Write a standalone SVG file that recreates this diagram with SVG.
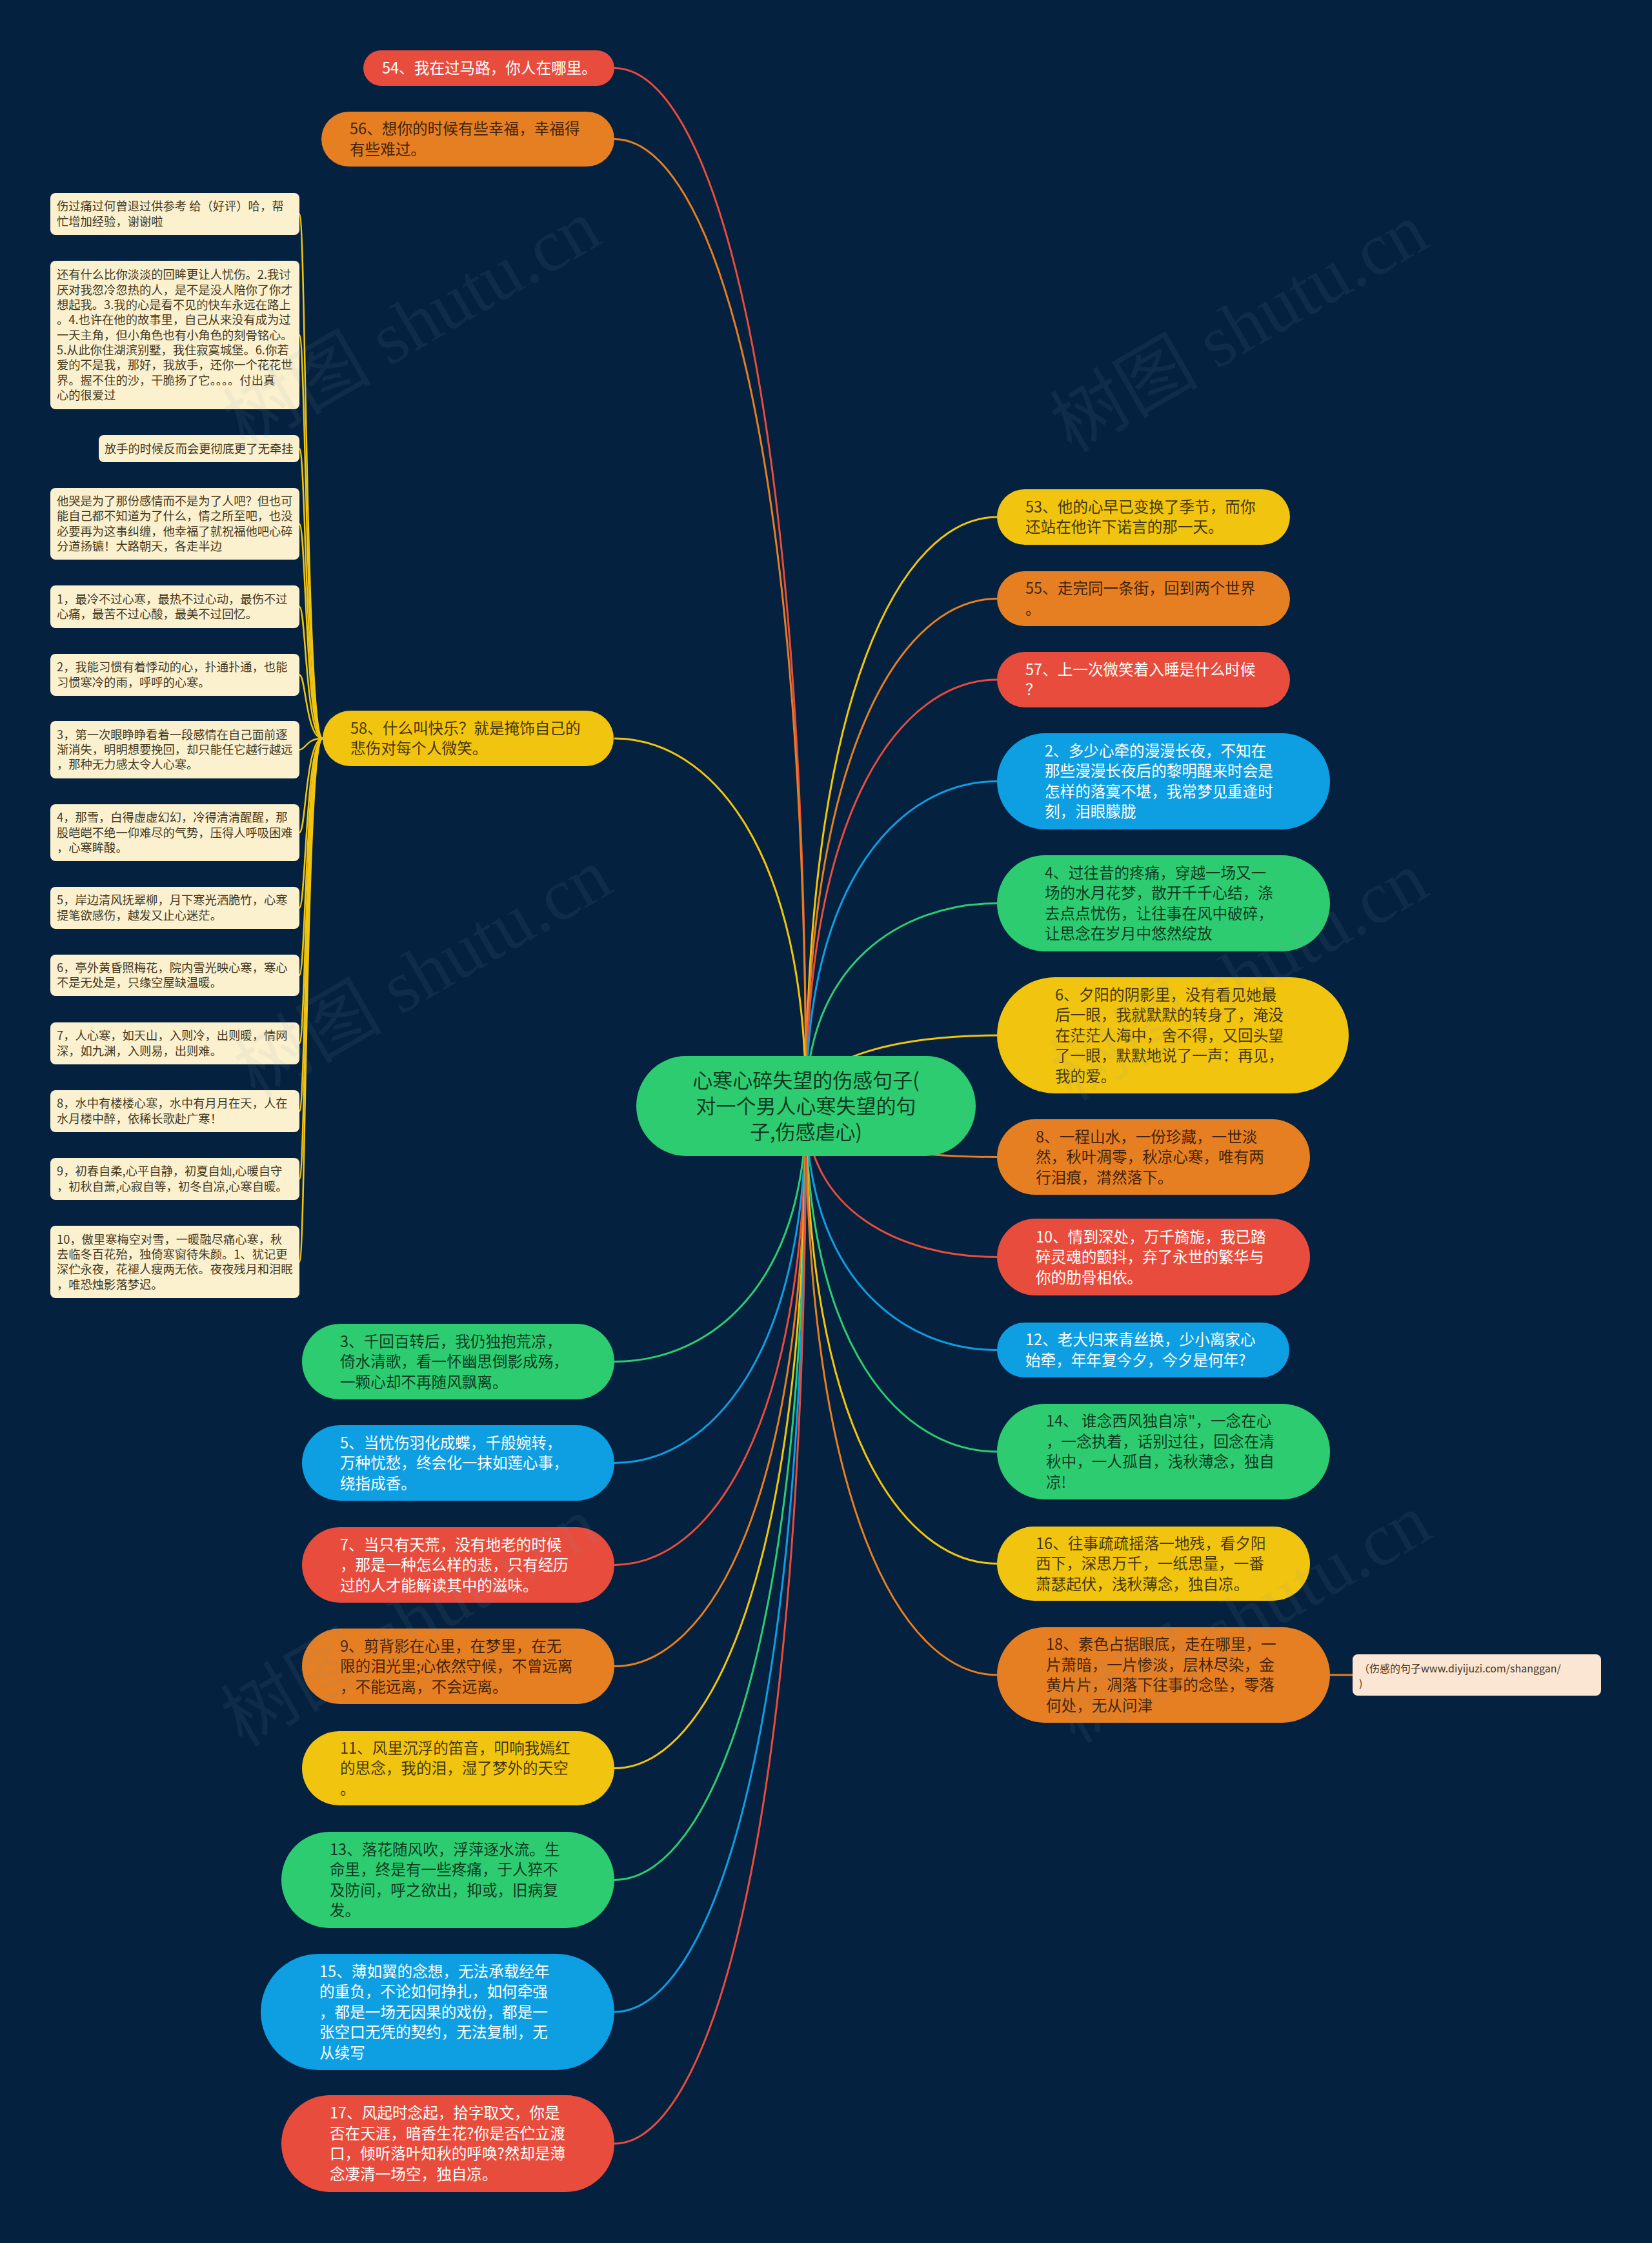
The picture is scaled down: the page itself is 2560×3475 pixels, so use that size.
<svg xmlns="http://www.w3.org/2000/svg" width="2560" height="3475" viewBox="0 0 2560 3475">
<style>
.bg{fill:#04213f}
.red{fill:#e74c3c}.orange{fill:#e67e22}.yellow{fill:#f1c40f}.green{fill:#2ecc71}.blue{fill:#0e9ee2}
.t{font-family:'Noto Sans CJK SC','Noto Sans',sans-serif;font-size:23.6px}
.dk{fill:#000;fill-opacity:.74}.lt{fill:#fff}
.note{fill:#fbf1cf}
.nt{font-family:'Noto Sans CJK SC','Noto Sans',sans-serif;font-size:18.3px;fill:#44391f}
.ct{font-family:'Noto Sans CJK SC','Noto Sans',sans-serif;font-size:31px;fill:#000;fill-opacity:.74}
.c{fill:none;stroke-width:3}
.cn{fill:none;stroke-width:2.5;stroke:#f1c40f}
.sr{stroke:#e74c3c}.so{stroke:#e67e22}.sy{stroke:#f1c40f}.sg{stroke:#2ecc71}.sb{stroke:#0e9ee2}
.ann{fill:#fbe6d3}
.at{font-family:'Noto Sans CJK SC','Noto Sans',sans-serif;font-size:16px;fill:#4a3520}
.wm{font-family:'Liberation Serif','Noto Sans CJK SC',serif;font-size:115px;fill:#8a9bb0;fill-opacity:.09}
</style>
<rect class="bg" x="0" y="0" width="2560" height="3475"/>
<g id="connectors">
<path class="c sy" d="M1249 1713 C1249 1074.6 1397 801 1545 801"/>
<path class="c so" d="M1249 1713 C1249 1163.15 1397 927.5 1545 927.5"/>
<path class="c sr" d="M1249 1713 C1249 1251 1397 1053 1545 1053"/>
<path class="c sb" d="M1249 1713 C1249 1361.25 1397 1210.5 1545 1210.5"/>
<path class="c sg" d="M1249 1713 C1249 1493.55 1397 1399.5 1545 1399.5"/>
<path class="c sy" d="M1249 1713 C1249 1636.7 1397 1604 1545 1604"/>
<path class="c so" d="M1249 1713 C1249 1768.65 1397 1792.5 1545 1792.5"/>
<path class="c sr" d="M1249 1713 C1249 1877.15 1397 1947.5 1545 1947.5"/>
<path class="c sb" d="M1249 1713 C1249 1977.95 1397 2091.5 1545 2091.5"/>
<path class="c sg" d="M1249 1713 C1249 2088.2 1397 2249 1545 2249"/>
<path class="c sy" d="M1249 1713 C1249 2209.65 1397 2422.5 1545 2422.5"/>
<path class="c so" d="M1249 1713 C1249 2330.4 1397 2595 1545 2595"/>
<path class="c sr" d="M1249 1713 C1249 587.75 1100.5 105.5 952 105.5"/>
<path class="c so" d="M1249 1713 C1249 664.75 1100.5 215.5 952 215.5"/>
<path class="c sy" d="M1249 1713 C1249 1314.7 1100.5 1144 952 1144"/>
<path class="c sg" d="M1249 1713 C1249 1990.55 1100.5 2109.5 952 2109.5"/>
<path class="c sb" d="M1249 1713 C1249 2100.45 1100.5 2266.5 952 2266.5"/>
<path class="c sr" d="M1249 1713 C1249 2211.05 1100.5 2424.5 952 2424.5"/>
<path class="c so" d="M1249 1713 C1249 2320.95 1100.5 2581.5 952 2581.5"/>
<path class="c sy" d="M1249 1713 C1249 2431.55 1100.5 2739.5 952 2739.5"/>
<path class="c sg" d="M1249 1713 C1249 2552.65 1100.5 2912.5 952 2912.5"/>
<path class="c sb" d="M1249 1713 C1249 2695.8 1100.5 3117 952 3117"/>
<path class="c sr" d="M1249 1713 C1249 2838.6 1100.5 3321 952 3321"/>
<path class="cn" d="M500 1144 C474 1144 474 331.5 464 331.5"/>
<path class="cn" d="M500 1144 C474 1144 474 519 464 519"/>
<path class="cn" d="M500 1144 C474 1144 474 695 464 695"/>
<path class="cn" d="M500 1144 C474 1144 474 811.5 464 811.5"/>
<path class="cn" d="M500 1144 C474 1144 474 940 464 940"/>
<path class="cn" d="M500 1144 C474 1144 474 1045.5 464 1045.5"/>
<path class="cn" d="M500 1144 C474 1144 474 1161.5 464 1161.5"/>
<path class="cn" d="M500 1144 C474 1144 474 1290 464 1290"/>
<path class="cn" d="M500 1144 C474 1144 474 1406.5 464 1406.5"/>
<path class="cn" d="M500 1144 C474 1144 474 1511 464 1511"/>
<path class="cn" d="M500 1144 C474 1144 474 1616.5 464 1616.5"/>
<path class="cn" d="M500 1144 C474 1144 474 1721.5 464 1721.5"/>
<path class="cn" d="M500 1144 C474 1144 474 1826.5 464 1826.5"/>
<path class="cn" d="M500 1144 C474 1144 474 1955 464 1955"/>
<path class="c so" d="M2061 2595 L2096 2595"/>
</g>

<g id="center">
<rect class="green" x="986" y="1636" width="526" height="155" rx="77.5"/>
<text class="ct" text-anchor="middle" x="1249" y="1685.3"><tspan x="1249">心寒心碎失望的伤感句子(</tspan><tspan x="1249" dy="40">对一个男人心寒失望的句</tspan><tspan x="1249" dy="40">子,伤感虐心)</tspan></text>
</g>

<g id="n53"><rect class="yellow" x="1545" y="758" width="454" height="86" rx="43"/>
<text class="t dk" x="1589" y="793.75"><tspan x="1589">53、他的心早已变换了季节，而你</tspan><tspan x="1589" dy="31.5">还站在他许下诺言的那一天。</tspan></text></g>
<g id="n55"><rect class="orange" x="1545" y="885" width="454" height="85" rx="42.5"/>
<text class="t dk" x="1589" y="920.25"><tspan x="1589">55、走完同一条街，回到两个世界</tspan><tspan x="1589" dy="31.5">。</tspan></text></g>
<g id="n57"><rect class="red" x="1545" y="1010" width="454" height="86" rx="43"/>
<text class="t lt" x="1589" y="1045.75"><tspan x="1589">57、上一次微笑着入睡是什么时候</tspan><tspan x="1589" dy="31.5">？</tspan></text></g>
<g id="n2"><rect class="blue" x="1545" y="1136" width="516" height="149" rx="74.5"/>
<text class="t lt" x="1619" y="1171.75"><tspan x="1619">2、多少心牵的漫漫长夜，不知在</tspan><tspan x="1619" dy="31.5">那些漫漫长夜后的黎明醒来时会是</tspan><tspan x="1619" dy="31.5">怎样的落寞不堪，我常梦见重逢时</tspan><tspan x="1619" dy="31.5">刻，泪眼朦胧</tspan></text></g>
<g id="n4"><rect class="green" x="1545" y="1325" width="516" height="149" rx="74.5"/>
<text class="t dk" x="1619" y="1360.75"><tspan x="1619">4、过往昔的疼痛，穿越一场又一</tspan><tspan x="1619" dy="31.5">场的水月花梦，散开千千心结，涤</tspan><tspan x="1619" dy="31.5">去点点忧伤，让往事在风中破碎，</tspan><tspan x="1619" dy="31.5">让思念在岁月中悠然绽放</tspan></text></g>
<g id="n6"><rect class="yellow" x="1545" y="1514" width="545" height="180" rx="90"/>
<text class="t dk" x="1635" y="1549.5"><tspan x="1635">6、夕阳的阴影里，没有看见她最</tspan><tspan x="1635" dy="31.5">后一眼，我就默默的转身了，淹没</tspan><tspan x="1635" dy="31.5">在茫茫人海中，舍不得，又回头望</tspan><tspan x="1635" dy="31.5">了一眼，默默地说了一声：再见，</tspan><tspan x="1635" dy="31.5">我的爱。</tspan></text></g>
<g id="n8"><rect class="orange" x="1545" y="1734" width="485" height="117" rx="58.5"/>
<text class="t dk" x="1605" y="1769.5"><tspan x="1605">8、一程山水，一份珍藏，一世淡</tspan><tspan x="1605" dy="31.5">然，秋叶凋零，秋凉心寒，唯有两</tspan><tspan x="1605" dy="31.5">行泪痕，潸然落下。</tspan></text></g>
<g id="n10"><rect class="red" x="1545" y="1888" width="485" height="119" rx="59.5"/>
<text class="t lt" x="1605" y="1924.5"><tspan x="1605">10、情到深处，万千旖旎，我已踏</tspan><tspan x="1605" dy="31.5">碎灵魂的颤抖，弃了永世的繁华与</tspan><tspan x="1605" dy="31.5">你的肋骨相依。</tspan></text></g>
<g id="n12"><rect class="blue" x="1545" y="2049" width="453" height="85" rx="42.5"/>
<text class="t lt" x="1589" y="2084.25"><tspan x="1589">12、老大归来青丝换，少小离家心</tspan><tspan x="1589" dy="31.5">始牵，年年复今夕，今夕是何年?</tspan></text></g>
<g id="n14"><rect class="green" x="1545" y="2175" width="516" height="148" rx="74"/>
<text class="t dk" x="1621" y="2210.25"><tspan x="1621">14、 谁念西风独自凉"，一念在心</tspan><tspan x="1621" dy="31.5">，一念执着，话别过往，回念在清</tspan><tspan x="1621" dy="31.5">秋中，一人孤自，浅秋薄念，独自</tspan><tspan x="1621" dy="31.5">凉!</tspan></text></g>
<g id="n16"><rect class="yellow" x="1545" y="2365" width="485" height="115" rx="57.5"/>
<text class="t dk" x="1605" y="2399.5"><tspan x="1605">16、往事疏疏摇落一地残，看夕阳</tspan><tspan x="1605" dy="31.5">西下，深思万千，一纸思量，一番</tspan><tspan x="1605" dy="31.5">萧瑟起伏，浅秋薄念，独自凉。</tspan></text></g>
<g id="n18"><rect class="orange" x="1545" y="2521" width="516" height="148" rx="74"/>
<text class="t dk" x="1621" y="2556.25"><tspan x="1621">18、素色占据眼底，走在哪里，一</tspan><tspan x="1621" dy="31.5">片萧暗，一片惨淡，层林尽染，金</tspan><tspan x="1621" dy="31.5">黄片片，凋落下往事的念坠，零落</tspan><tspan x="1621" dy="31.5">何处，无从问津</tspan></text></g>
<g id="annotation"><rect class="ann" x="2096" y="2563" width="385" height="64" rx="8"/>
<text class="at" x="2106" y="2590.8"><tspan x="2106">（伤感的句子www.diyijuzi.com/shanggan/</tspan><tspan x="2106" dy="23">)</tspan></text></g>

<g id="n54"><rect class="red" x="563" y="78" width="389" height="55" rx="27.5"/>
<text class="t lt" x="592" y="114">54、我在过马路，你人在哪里。</text></g>
<g id="n56"><rect class="orange" x="498" y="173" width="454" height="85" rx="42.5"/>
<text class="t dk" x="542" y="208.25"><tspan x="542">56、想你的时候有些幸福，幸福得</tspan><tspan x="542" dy="31.5">有些难过。</tspan></text></g>
<g id="n58"><rect class="yellow" x="500" y="1101" width="451" height="86" rx="43"/>
<text class="t dk" x="543" y="1136.75"><tspan x="543">58、什么叫快乐？就是掩饰自己的</tspan><tspan x="543" dy="31.5">悲伤对每个人微笑。</tspan></text></g>
<g id="n3"><rect class="green" x="468" y="2051" width="484" height="117" rx="58.5"/>
<text class="t dk" x="527" y="2086.5"><tspan x="527">3、千回百转后，我仍独抱荒凉，</tspan><tspan x="527" dy="31.5">倚水清歌，看一怀幽思倒影成殇，</tspan><tspan x="527" dy="31.5">一颗心却不再随风飘离。</tspan></text></g>
<g id="n5"><rect class="blue" x="468" y="2208" width="484" height="117" rx="58.5"/>
<text class="t lt" x="527" y="2243.5"><tspan x="527">5、当忧伤羽化成蝶，千般婉转，</tspan><tspan x="527" dy="31.5">万种忧愁，终会化一抹如莲心事，</tspan><tspan x="527" dy="31.5">绕指成香。</tspan></text></g>
<g id="n7"><rect class="red" x="468" y="2366" width="484" height="117" rx="58.5"/>
<text class="t lt" x="527" y="2401.5"><tspan x="527">7、当只有天荒，没有地老的时候</tspan><tspan x="527" dy="31.5">，那是一种怎么样的悲，只有经历</tspan><tspan x="527" dy="31.5">过的人才能解读其中的滋味。</tspan></text></g>
<g id="n9"><rect class="orange" x="468" y="2523" width="484" height="117" rx="58.5"/>
<text class="t dk" x="527" y="2558.5"><tspan x="527">9、剪背影在心里，在梦里，在无</tspan><tspan x="527" dy="31.5">限的泪光里;心依然守候，不曾远离</tspan><tspan x="527" dy="31.5">，不能远离，不会远离。</tspan></text></g>
<g id="n11"><rect class="yellow" x="468" y="2682" width="484" height="115" rx="57.5"/>
<text class="t dk" x="527" y="2716.5"><tspan x="527">11、风里沉浮的笛音，叩响我嫣红</tspan><tspan x="527" dy="31.5">的思念，我的泪，湿了梦外的天空</tspan><tspan x="527" dy="31.5">。</tspan></text></g>
<g id="n13"><rect class="green" x="436" y="2838" width="516" height="149" rx="74.5"/>
<text class="t dk" x="511" y="2873.75"><tspan x="511">13、落花随风吹，浮萍逐水流。生</tspan><tspan x="511" dy="31.5">命里，终是有一些疼痛，于人猝不</tspan><tspan x="511" dy="31.5">及防间，呼之欲出，抑或，旧病复</tspan><tspan x="511" dy="31.5">发。</tspan></text></g>
<g id="n15"><rect class="blue" x="404" y="3027" width="548" height="180" rx="90"/>
<text class="t lt" x="495" y="3062.5"><tspan x="495">15、薄如翼的念想，无法承载经年</tspan><tspan x="495" dy="31.5">的重负，不论如何挣扎，如何牵强</tspan><tspan x="495" dy="31.5">，都是一场无因果的戏份，都是一</tspan><tspan x="495" dy="31.5">张空口无凭的契约，无法复制，无</tspan><tspan x="495" dy="31.5">从续写</tspan></text></g>
<g id="n17"><rect class="red" x="436" y="3246" width="516" height="150" rx="75"/>
<text class="t lt" x="511" y="3282.25"><tspan x="511">17、风起时念起，拾字取文，你是</tspan><tspan x="511" dy="31.5">否在天涯，暗香生花?你是否伫立渡</tspan><tspan x="511" dy="31.5">口，倾听落叶知秋的呼唤?然却是薄</tspan><tspan x="511" dy="31.5">念凄清一场空，独自凉。</tspan></text></g>

<g id="note1"><rect class="note" x="78" y="299" width="386" height="65" rx="8"/>
<text class="nt" x="88" y="326.45"><tspan x="88">伤过痛过何曾退过供参考 给（好评）哈，帮</tspan><tspan x="88" dy="23.3">忙增加经验，谢谢啦</tspan></text></g>
<g id="note2"><rect class="note" x="78" y="404" width="386" height="230" rx="8"/>
<text class="nt" x="88" y="432.4"><tspan x="88">还有什么比你淡淡的回眸更让人忧伤。2.我讨</tspan><tspan x="88" dy="23.3">厌对我忽冷忽热的人，是不是没人陪你了你才</tspan><tspan x="88" dy="23.3">想起我。3.我的心是看不见的快车永远在路上</tspan><tspan x="88" dy="23.3">。4.也许在他的故事里，自己从来没有成为过</tspan><tspan x="88" dy="23.3">一天主角，但小角色也有小角色的刻骨铭心。</tspan><tspan x="88" dy="23.3">5.从此你住湖滨别墅，我住寂寞城堡。6.你若</tspan><tspan x="88" dy="23.3">爱的不是我，那好，我放手，还你一个花花世</tspan><tspan x="88" dy="23.3">界。握不住的沙，干脆扬了它。。。。付出真</tspan><tspan x="88" dy="23.3">心的很爱过</tspan></text></g>
<g id="note3"><rect class="note" x="153" y="674" width="311" height="42" rx="8"/>
<text class="nt" x="162" y="701.6">放手的时候反而会更彻底更了无牵挂</text></g>
<g id="note4"><rect class="note" x="78" y="756" width="386" height="111" rx="8"/>
<text class="nt" x="88" y="783.15"><tspan x="88">他哭是为了那份感情而不是为了人吧？但也可</tspan><tspan x="88" dy="23.3">能自己都不知道为了什么，情之所至吧，也没</tspan><tspan x="88" dy="23.3">必要再为这事纠缠，他幸福了就祝福他吧心碎</tspan><tspan x="88" dy="23.3">分道扬镳！大路朝天，各走半边</tspan></text></g>
<g id="note5"><rect class="note" x="78" y="907" width="386" height="66" rx="8"/>
<text class="nt" x="88" y="934.95"><tspan x="88">1，最冷不过心寒，最热不过心动，最伤不过</tspan><tspan x="88" dy="23.3">心痛，最苦不过心酸，最美不过回忆。</tspan></text></g>
<g id="note6"><rect class="note" x="78" y="1013" width="386" height="65" rx="8"/>
<text class="nt" x="88" y="1040.45"><tspan x="88">2，我能习惯有着悸动的心，扑通扑通，也能</tspan><tspan x="88" dy="23.3">习惯寒冷的雨，呼呼的心寒。</tspan></text></g>
<g id="note7"><rect class="note" x="78" y="1117" width="386" height="89" rx="8"/>
<text class="nt" x="88" y="1144.8"><tspan x="88">3，第一次眼睁睁看着一段感情在自己面前逐</tspan><tspan x="88" dy="23.3">渐消失，明明想要挽回，却只能任它越行越远</tspan><tspan x="88" dy="23.3">，那种无力感太令人心寒。</tspan></text></g>
<g id="note8"><rect class="note" x="78" y="1246" width="386" height="88" rx="8"/>
<text class="nt" x="88" y="1273.3"><tspan x="88">4，那雪，白得虚虚幻幻，冷得清清醒醒，那</tspan><tspan x="88" dy="23.3">股皑皑不绝一仰难尽的气势，压得人呼吸困难</tspan><tspan x="88" dy="23.3">，心寒眸酸。</tspan></text></g>
<g id="note9"><rect class="note" x="78" y="1374" width="386" height="65" rx="8"/>
<text class="nt" x="88" y="1401.45"><tspan x="88">5，岸边清风抚翠柳，月下寒光洒脆竹，心寒</tspan><tspan x="88" dy="23.3">提笔欲感伤，越发又止心迷茫。</tspan></text></g>
<g id="note10"><rect class="note" x="78" y="1479" width="386" height="64" rx="8"/>
<text class="nt" x="88" y="1505.95"><tspan x="88">6，亭外黄昏照梅花，院内雪光映心寒，寒心</tspan><tspan x="88" dy="23.3">不是无处是，只缘空屋缺温暖。</tspan></text></g>
<g id="note11"><rect class="note" x="78" y="1584" width="386" height="65" rx="8"/>
<text class="nt" x="88" y="1611.45"><tspan x="88">7，人心寒，如天山，入则冷，出则暖，情网</tspan><tspan x="88" dy="23.3">深，如九渊，入则易，出则难。</tspan></text></g>
<g id="note12"><rect class="note" x="78" y="1689" width="386" height="65" rx="8"/>
<text class="nt" x="88" y="1716.45"><tspan x="88">8，水中有楼楼心寒，水中有月月在天，人在</tspan><tspan x="88" dy="23.3">水月楼中醉，依稀长歌赴广寒！</tspan></text></g>
<g id="note13"><rect class="note" x="78" y="1794" width="386" height="65" rx="8"/>
<text class="nt" x="88" y="1821.45"><tspan x="88">9，初春自柔,心平自静，初夏自灿,心暖自守</tspan><tspan x="88" dy="23.3">，初秋自萧,心寂自等，初冬自凉,心寒自暖。</tspan></text></g>
<g id="note14"><rect class="note" x="78" y="1899" width="386" height="112" rx="8"/>
<text class="nt" x="88" y="1926.65"><tspan x="88">10，傲里寒梅空对雪，一暖融尽痛心寒，秋</tspan><tspan x="88" dy="23.3">去临冬百花殆，独倚寒窗待朱颜。1、犹记更</tspan><tspan x="88" dy="23.3">深伫永夜，花褪人瘦两无依。夜夜残月和泪眠</tspan><tspan x="88" dy="23.3">，唯恐烛影落梦迟。</tspan></text></g>

<g id="watermark">
<text class="wm" text-anchor="middle" x="643" y="540" transform="rotate(-30 643 510)">树图 shutu.cn</text>
<text class="wm" text-anchor="middle" x="1925" y="545" transform="rotate(-30 1925 515)">树图 shutu.cn</text>
<text class="wm" text-anchor="middle" x="660" y="1545" transform="rotate(-30 660 1515)">树图 shutu.cn</text>
<text class="wm" text-anchor="middle" x="1925" y="1550" transform="rotate(-30 1925 1520)">树图 shutu.cn</text>
<text class="wm" text-anchor="middle" x="640" y="2550" transform="rotate(-30 640 2520)">树图 shutu.cn</text>
<text class="wm" text-anchor="middle" x="1930" y="2545" transform="rotate(-30 1930 2515)">树图 shutu.cn</text>
</g>
</svg>
